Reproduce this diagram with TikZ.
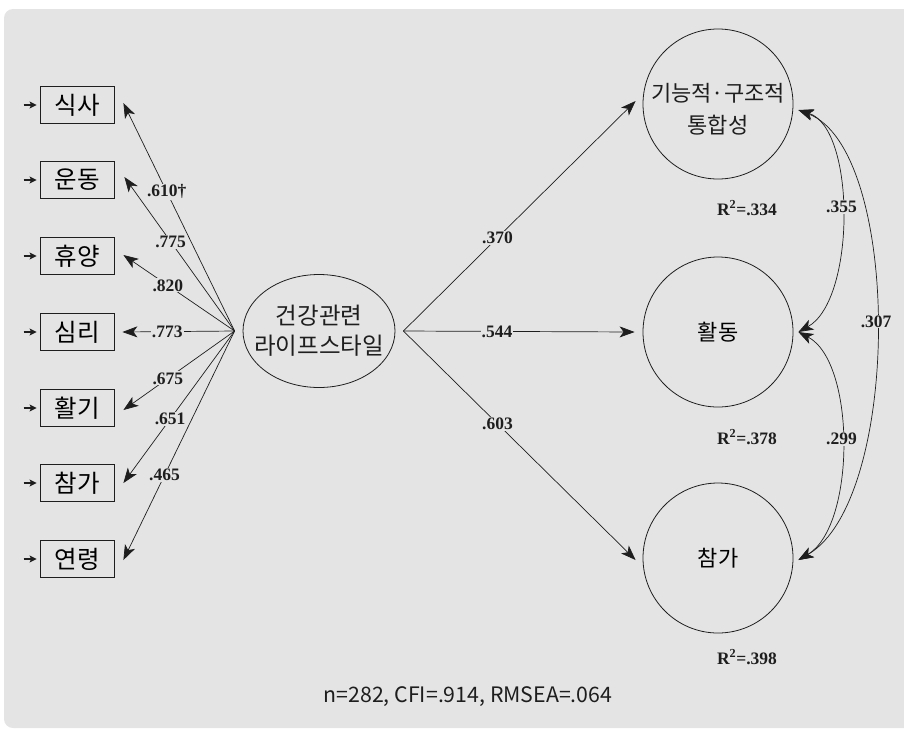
\documentclass[tikz,border=0pt]{standalone}
\usepackage{fontspec}
\setmainfont{Liberation Serif}
\newfontfamily\kr{Noto Sans CJK KR}
\usetikzlibrary{arrows.meta,shapes.geometric}
\definecolor{panel}{HTML}{E4E4E4}
\definecolor{ink}{HTML}{1E1E1E}
\begin{document}
\begin{tikzpicture}[x=1pt,y=-1pt,
  box/.style={draw=ink, line width=0.8pt, minimum width=74pt, minimum height=37pt, inner sep=0pt, font=\kr\fontsize{24.5}{26}\selectfont},
  lat/.style={draw=ink, line width=0.8pt, ellipse, minimum width=152pt, minimum height=113pt, inner sep=0pt},
  lattext/.style={inner sep=0pt, align=center, text=ink, font=\kr\fontsize{23.5}{30}\selectfont},
  fac/.style={draw=ink, line width=0.8pt, circle, minimum size=150pt, inner sep=0pt, align=center, font=\kr\fontsize{22}{32}\selectfont},
  factext/.style={inner sep=0pt, align=center, text=ink, font=\kr\fontsize{22}{32}\selectfont},
  arr/.style={draw=ink, line width=0.7pt, -{Stealth[length=15pt,width=11pt,inset=4pt]}},
  cov/.style={draw=ink, line width=0.7pt, {Stealth[length=15pt,width=11pt,inset=4pt]}-{Stealth[length=15pt,width=11pt,inset=4pt]}},
  err/.style={draw=ink, line width=1.2pt, -{Stealth[length=7pt,width=7pt,inset=1.5pt]}},
  numlab/.style={fill=panel, inner sep=1pt, text=ink, font=\bfseries\fontsize{17.5}{19}\selectfont},
  rlab/.style={inner sep=0pt, text=ink, font=\bfseries\fontsize{17.5}{19}\selectfont}
]
\useasboundingbox (0,0) rectangle (904,729);
\clip (0,0) rectangle (904,729);
\fill[panel, rounded corners=9pt] (4,9) rectangle (920,728);

% observed variables
\node[box] (b1) at (77,105) {식사};
\node[box] (b2) at (77,180) {운동};
\node[box] (b3) at (77,256) {휴양};
\node[box] (b4) at (77,332) {심리};
\node[box] (b5) at (77,408) {활기};
\node[box] (b6) at (77,483) {참가};
\node[box] (b7) at (77,559) {연령};

\foreach \b in {b1,b2,b3,b4,b5,b6,b7}{
  \draw[err] ([xshift=-16pt]\b.west) -- ([xshift=-3pt]\b.west);
}

% latent
\node[lat] (L) at (319,331) {};
\node[lattext] (Lt) at (319,331) {건강관련\\라이프스타일};
\coordinate (lc) at ([xshift=-8pt]L.west);
\coordinate (rc) at ([xshift=8pt]L.east);

\draw[arr] (lc) -- node[numlab,pos=0.61] {.610\textdagger} ([xshift=9pt,yshift=2pt]b1.east);
\draw[arr] (lc) -- node[numlab,pos=0.58] {.775} ([xshift=10pt,yshift=3pt]b2.east);
\draw[arr] (lc) -- node[numlab,pos=0.6] {.820} ([xshift=9pt,yshift=1pt]b3.east);
\draw[arr] (lc) -- node[numlab,pos=0.6] {.773} ([xshift=8pt]b4.east);
\draw[arr] (lc) -- node[numlab,pos=0.6] {.675} ([xshift=9pt,yshift=-2pt]b5.east);
\draw[arr] (lc) -- node[numlab,pos=0.58] {.651} ([xshift=9pt]b6.east);
\draw[arr] (lc) -- node[numlab,pos=0.63] {.465} ([xshift=9pt,yshift=-1pt]b7.east);

% factors
\node[fac] (f1) at (718,104) {};
\node[factext] (f1t) at (718,109) {기능적·구조적\\통합성};
\node[fac] (f2) at (718,332) {활동};
\node[fac] (f3) at (718,558) {참가};

\draw[arr] (rc) -- node[numlab,pos=0.405] {.370} ([xshift=-7pt,yshift=3pt]f1.west);
\draw[arr] (rc) -- node[numlab,pos=0.405] {.544} ([xshift=-8pt]f2.west);
\draw[arr] (rc) -- node[numlab,pos=0.405] {.603} ([xshift=-7pt,yshift=-2pt]f3.west);

\node[rlab] (r1) at (747,208) {R\textsuperscript{2}=.334};
\node[rlab] (r2) at (747,437) {R\textsuperscript{2}=.378};
\node[rlab] (r3) at (747,657) {R\textsuperscript{2}=.398};

% covariances
\coordinate (t1) at ([xshift=5pt,yshift=-6pt]f1.east);
\coordinate (t2) at ([xshift=5pt]f2.east);
\coordinate (t3) at ([xshift=5pt,yshift=-2pt]f3.east);
\draw[cov] (t1) .. controls (856,128) and (856,300) .. node[numlab,pos=0.47] {.355} (t2);
\draw[cov] (t2) .. controls (856,362) and (856,526) .. node[numlab,pos=0.48] {.299} (t3);
\draw[cov] (t1) .. controls (902,150) and (902,500) .. node[numlab,pos=0.49] {.307} (t3);

\node[text=ink, font=\kr\fontsize{21.3}{24}\selectfont] (fit) at (468,697) {n=282, CFI=.914, RMSEA=.064};
\end{tikzpicture}
\end{document}
